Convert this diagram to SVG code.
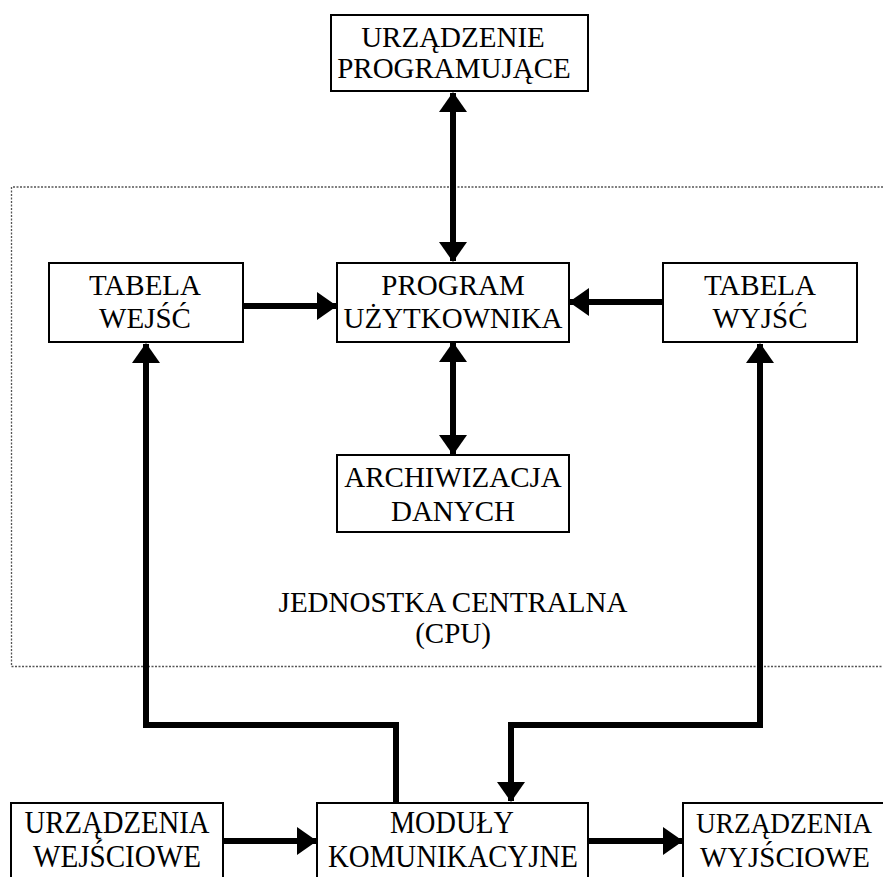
<svg xmlns="http://www.w3.org/2000/svg" width="883" height="877" viewBox="0 0 883 877">
<style>
.box{fill:#fff;stroke:#000;stroke-width:2}
.t{font-family:"Liberation Serif","Times New Roman",serif;font-size:29px;fill:#000;text-anchor:middle}
.b{font-size:31px}
.c{fill:none;stroke:#000;stroke-width:6}
.frame{fill:none;stroke:#555;stroke-width:1.3;stroke-dasharray:2 1.5}
</style>
<defs>
<marker id="ah" markerUnits="userSpaceOnUse" markerWidth="20" markerHeight="28" viewBox="0 0 20 28" refX="19" refY="14" orient="auto-start-reverse">
<path d="M0,0 L20,14 L0,28 Z" fill="#000"/>
</marker>
</defs>
<rect width="883" height="877" fill="#fff"/>
<g id="cpu">
<path class="frame" d="M890,187 H11.5 V666.5 H890"/>
<text class="t" x="453" y="612">JEDNOSTKA CENTRALNA</text>
<text class="t" x="453" y="643">(CPU)</text>
</g>
<g id="connectors">
<line class="c" x1="453" y1="93" x2="453" y2="261" marker-start="url(#ah)" marker-end="url(#ah)"/>
<line class="c" x1="243" y1="306" x2="336" y2="306" marker-end="url(#ah)"/>
<line class="c" x1="663" y1="302" x2="570" y2="302" marker-end="url(#ah)"/>
<line class="c" x1="453" y1="343" x2="453" y2="454" marker-start="url(#ah)" marker-end="url(#ah)"/>
<polyline class="c" points="396,803 396,725 146,725 146,344" marker-end="url(#ah)"/>
<polyline class="c" points="760,344 760,725 511,725 511,801" marker-start="url(#ah)" marker-end="url(#ah)"/>
<line class="c" x1="223" y1="841" x2="316" y2="841" marker-end="url(#ah)"/>
<line class="c" x1="588" y1="841" x2="682" y2="841" marker-end="url(#ah)"/>
</g>
<g id="urzadzenie-programujace">
<rect class="box" x="331" y="15" width="257" height="76"/>
<text class="t" x="453" y="47">URZĄDZENIE</text>
<text class="t" x="454" y="78">PROGRAMUJĄCE</text>
</g>
<g id="tabela-wejsc">
<rect class="box" x="49" y="263" width="194" height="79"/>
<text class="t" x="145" y="295">TABELA</text>
<text class="t" x="145" y="328">WEJŚĆ</text>
</g>
<g id="program-uzytkownika">
<rect class="box" x="337" y="263" width="232" height="79"/>
<text class="t" x="453" y="295">PROGRAM</text>
<text class="t" x="453" y="328">UŻYTKOWNIKA</text>
</g>
<g id="tabela-wyjsc">
<rect class="box" x="663" y="263" width="194" height="79"/>
<text class="t" x="760" y="295">TABELA</text>
<text class="t" x="760" y="328">WYJŚĆ</text>
</g>
<g id="archiwizacja-danych">
<rect class="box" x="337" y="455" width="232" height="77"/>
<text class="t" x="453" y="487">ARCHIWIZACJA</text>
<text class="t" x="453" y="521">DANYCH</text>
</g>
<g id="urzadzenia-wejsciowe">
<rect class="box" x="11" y="803" width="212" height="90"/>
<text class="t b" x="117" y="833" textLength="185" lengthAdjust="spacingAndGlyphs">URZĄDZENIA</text>
<text class="t b" x="117" y="867" textLength="168" lengthAdjust="spacingAndGlyphs">WEJŚCIOWE</text>
</g>
<g id="moduly-komunikacyjne">
<rect class="box" x="317" y="803" width="271" height="90"/>
<text class="t b" x="452" y="833" textLength="124" lengthAdjust="spacingAndGlyphs">MODUŁY</text>
<text class="t b" x="453" y="867" textLength="250" lengthAdjust="spacingAndGlyphs">KOMUNIKACYJNE</text>
</g>
<g id="urzadzenia-wyjsciowe">
<rect class="box" x="683" y="803" width="220" height="90"/>
<text class="t" x="784" y="833" textLength="176" lengthAdjust="spacingAndGlyphs">URZĄDZENIA</text>
<text class="t" x="785" y="867" textLength="170" lengthAdjust="spacingAndGlyphs">WYJŚCIOWE</text>
</g>
</svg>
